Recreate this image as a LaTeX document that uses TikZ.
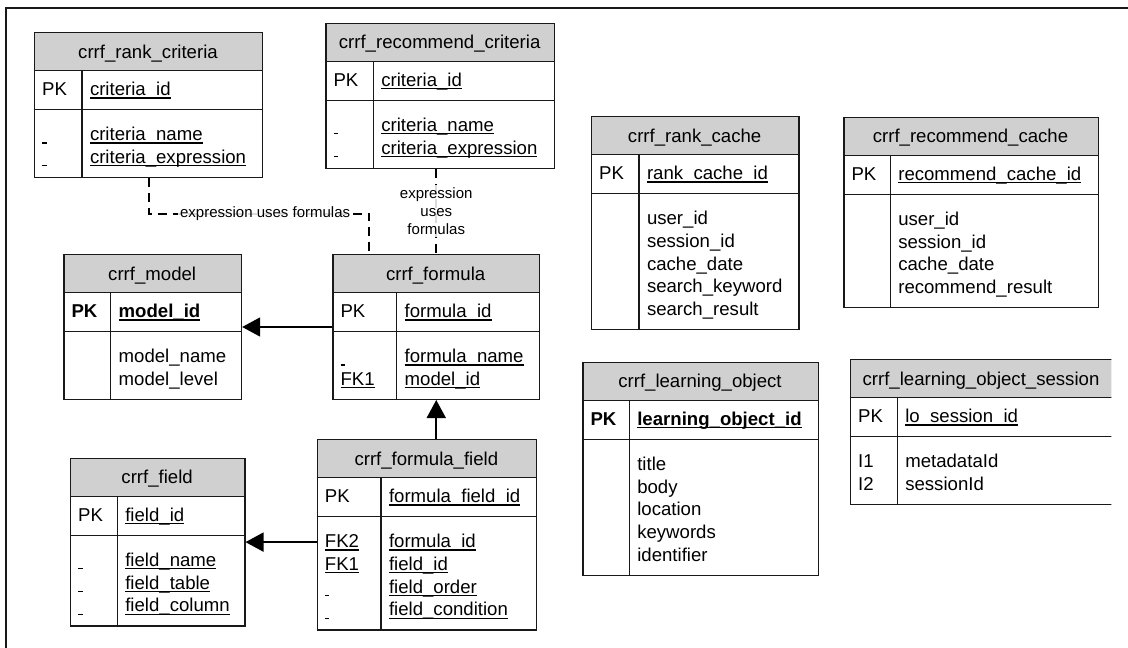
\documentclass[tikz,border=0pt]{standalone}
\usepackage{fontspec}
\setmainfont{Liberation Sans}
\usetikzlibrary{arrows.meta}

\definecolor{hdrgray}{RGB}{208,208,208}
\definecolor{inkgray}{RGB}{25,25,25}

% underlined key field
\newcommand{\keyul}[1]{\setbox0=\hbox{#1}\rlap{\rule[-3pt]{\wd0}{1.1pt}}\box0}
% short underline used for unnamed keys
\newcommand{\mk}{\rule[-3pt]{4.5pt}{1.1pt}}

\tikzset{
  tableline/.style={draw=inkgray, line width=1.2pt},
  tablebox/.style={draw=inkgray, line width=1.2pt, rectangle, inner sep=0pt, anchor=north west},
  rowtext/.style={anchor=base west, inner sep=0pt, font=\fontsize{18.6}{22.8}\selectfont},
  headtext/.style={anchor=base, inner sep=0pt, font=\fontsize{18.6}{22.8}\selectfont},
  fklink/.style={draw=black, line width=1.8pt, -{Triangle[length=18pt,width=19pt]}},
  deplink/.style={draw=black, line width=2pt, dash pattern=on 9pt off 6pt},
  deplabel/.style={font=\fontsize{15}{18}\selectfont, fill=white, fill opacity=0.85,
    text opacity=1, inner sep=2.5pt, align=center},
}

% \ertable{name}{left}{top}{width}{key column width}{title}{pk key}{pk field}{key/field rows}
\newcommand{\ertable}[9]{%
  \foreach \kk/\aa [count=\cc] in {#9} {\xdef\ernrows{\cc}}%
  \pgfmathsetmacro{\erh}{38.5+39+44.5+(\ernrows-1)*22.8}%
  \fill[hdrgray] (#2,#3) rectangle ++(#4,38.5);
  \draw[tableline] (#2,#3+38.5) -- ++(#4,0)
                   (#2,#3+77.5) -- ++(#4,0)
                   (#2+#5,#3+38.5) -- (#2+#5,#3+\erh);
  \node[tablebox, minimum width=#4, minimum height=\erh] (#1) at (#2,#3) {};
  \node[headtext] (#1-title) at (#2+#4/2,#3+26) {#6};
  \node[rowtext] (#1-pk) at (#2+8,#3+63.5) {#7};
  \node[rowtext] (#1-pkf) at (#2+#5+7.8,#3+63.5) {#8};
  \foreach \kk/\aa [count=\cc] in {#9} {
    \node[rowtext] (#1-k\cc) at (#2+8,#3+108.5+\cc*22.8-22.8) {\kk};
    \node[rowtext] (#1-f\cc) at (#2+#5+7.8,#3+108.5+\cc*22.8-22.8) {\aa};
  }%
}

\begin{document}
\begin{tikzpicture}[x=1pt,y=-1pt]
\useasboundingbox (0,0) rectangle (1128,648);
\fill[white] (0,0) rectangle (1128,648);

% frame
\draw[draw=inkgray, line width=1.4pt] (6,648) -- (6,8) -- (1128,8);

\ertable{rankcrit}{34}{32}{228}{48}{crrf\_rank\_criteria}{PK}{\keyul{criteria\_id}}
  {\mk/\keyul{criteria\_name}, \mk/\keyul{criteria\_expression}}

\ertable{reccrit}{325.3}{22.7}{228.7}{48}{crrf\_recommend\_criteria}{PK}{\keyul{criteria\_id}}
  {\mk/\keyul{criteria\_name}, \mk/\keyul{criteria\_expression}}

\ertable{rankcache}{591}{116}{207.3}{48}{crrf\_rank\_cache}{PK}{\keyul{rank\_cache\_id}}
  {{}/user\_id, {}/session\_id, {}/cache\_date, {}/search\_keyword, {}/search\_result}

\ertable{reccache}{843.3}{116.7}{254.4}{47}{crrf\_recommend\_cache}{PK}{\keyul{recommend\_cache\_id}}
  {{}/user\_id, {}/session\_id, {}/cache\_date, {}/recommend\_result}

\ertable{model}{63.3}{254}{177.7}{47.4}{crrf\_model}{\textbf{PK}}{\textbf{\keyul{model\_id}}}
  {{}/model\_name, {}/model\_level}

\ertable{formula}{332.3}{254}{206.7}{64.4}{crrf\_formula}{PK}{\keyul{formula\_id}}
  {\mk/\keyul{formula\_name}, \keyul{FK1}/\keyul{model\_id}}

\ertable{field}{70}{457.7}{174.3}{47.3}{crrf\_field}{PK}{\keyul{field\_id}}
  {\mk/\keyul{field\_name}, \mk/\keyul{field\_table}, \mk/\keyul{field\_column}}

\ertable{ffield}{316.7}{439}{219.3}{64.3}{crrf\_formula\_field}{PK}{\keyul{formula\_field\_id}}
  {\keyul{FK2}/\keyul{formula\_id}, \keyul{FK1}/\keyul{field\_id}, \mk/\keyul{field\_order}, \mk/\keyul{field\_condition}}

\ertable{lobj}{582.3}{361.7}{235.4}{47}{crrf\_learning\_object}{\textbf{PK}}{\textbf{\keyul{learning\_object\_id}}}
  {{}/title, {}/body, {}/location, {}/keywords, {}/identifier}

\begin{scope}
  \clip (0,0) rectangle (1111.3,648);
  \ertable{losess}{850}{359}{262}{47.3}{crrf\_learning\_object\_session}{PK}{\keyul{lo\_session\_id}}
    {I1/metadataId, I2/sessionId}
\end{scope}

% relationships
\draw[fklink] (formula) -- (model);
\draw[fklink] (ffield.north -| formula.south) -- (formula.south);
\draw[fklink] (ffield.west |- field.east) -- (field.east);

\draw[deplink] (rankcrit.south) -- ++(0,36) -| ([xshift=37pt]formula.north west)
  node[deplabel, pos=0.264] (lbl1) {expression uses formulas};
\draw[deplink] (reccrit.south -| formula.north) -- (formula.north)
  node[deplabel, midway] (lbl2) {expression\\uses\\formulas};
\end{tikzpicture}
\end{document}
